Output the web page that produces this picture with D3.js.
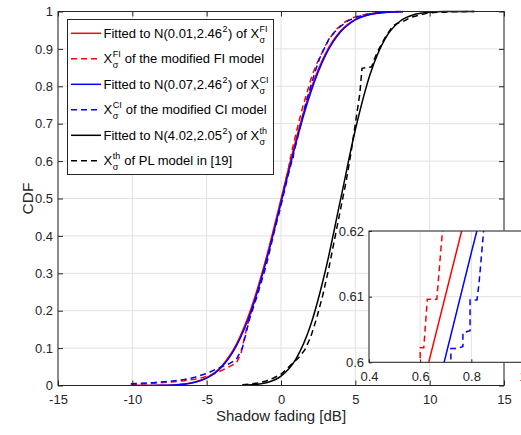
<!DOCTYPE html>
<meta charset="utf-8">
<style>
body { margin: 0; background: #fff; }
svg { display: block; font-family: "Liberation Sans", Arial, Helvetica, sans-serif; }
.grid line { stroke: #e2e2e2; stroke-width: 1; }
.axis text { font-size: 13px; fill: #262626; }
.axis line { stroke: #262626; }
.axis path { display: none; }
</style>
<body>
<script src="https://cdn.jsdelivr.net/npm/d3@7"></script>
<script>

// ticks
var xTicks = [-15, -10, -5, 0, 5, 10, 15];
var yTicks = [0, 0.1, 0.2, 0.3, 0.4, 0.5, 0.6, 0.7, 0.8, 0.9, 1];
var insetXTicks = [0.4, 0.6, 0.8, 1];
var insetYTicks = [0.6, 0.61, 0.62];

// fitted normal CDFs
var fitX_FI = [-10.1, -9, -8, -7, -6, -5, -4, -3, -2, -1, 0, 0.4, 0.6, 0.8, 1, 2, 3, 4, 5, 6, 7, 8, 8.2];
var fitY_FI = [0.00002, 0.00012, 0.00056, 0.0022, 0.0073, 0.0208, 0.0516, 0.1105, 0.2070, 0.3407, 0.4984,
               0.5630, 0.5948, 0.6259, 0.6563, 0.7907, 0.8879, 0.9476, 0.9787, 0.9926, 0.9978, 0.9994, 0.9996];
var fitX_CI = [-10.1, -9, -8, -7, -6, -5, -4, -3, -2, -1, 0, 0.4, 0.6, 0.8, 1, 2, 3, 4, 5, 6, 7, 8, 8.2];
var fitY_CI = [0.00002, 0.00011, 0.00052, 0.0020, 0.0068, 0.0197, 0.0491, 0.1060, 0.2000, 0.3318, 0.4886,
               0.5534, 0.5853, 0.6167, 0.6473, 0.7837, 0.8832, 0.9449, 0.9775, 0.9920, 0.9976, 0.9994, 0.9995];
var fitX_th = [-2.6, -2, -1, 0, 1, 2, 3, 4, 5, 6, 7, 8, 9, 10, 11, 12, 13];
var fitY_th = [0.0006, 0.0017, 0.0072, 0.0249, 0.0704, 0.1623, 0.3094, 0.4961, 0.6837, 0.8330, 0.9270,
               0.9739, 0.9924, 0.9982, 0.9997, 0.99995, 1.0];

// empirical CDFs [x, F]
var empFI = [[-10.1,0.003],[-9.5,0.004],[-8.5,0.006],[-7.5,0.009],[-6.5,0.013],[-5.8,0.017],[-5.2,0.022],
  [-4.6,0.03],[-4.0,0.04],[-3.5,0.05],[-3.0,0.06],[-2.7,0.085],[-2.5,0.12],[-2.3,0.155],[-2.05,0.19],
  [-1.8,0.225],[-1.5,0.265],[-1.2,0.305],[-0.9,0.35],[-0.6,0.395],[-0.3,0.445],[0.0,0.49],[0.3,0.545],
  [0.6,0.599],[0.6,0.6022],[0.614,0.6022],[0.628,0.6096],[0.665,0.6096],[0.687,0.62],[0.9,0.655],
  [1.2,0.705],[1.5,0.75],[1.8,0.79],[2.1,0.83],[2.4,0.86],[2.7,0.885],[3.0,0.91],[3.4,0.935],[3.8,0.955],
  [4.3,0.972],[4.8,0.983],[5.5,0.991],[6.3,0.996],[7.2,0.999],[8.2,1.0]];
var empCI = [[-10.1,0.005],[-9.5,0.006],[-8.5,0.008],[-7.5,0.011],[-6.5,0.016],[-5.8,0.022],[-5.0,0.032],
  [-4.4,0.043],[-4.0,0.05],[-3.5,0.058],[-3.0,0.07],[-2.6,0.1],[-2.35,0.14],[-2.1,0.18],[-1.85,0.21],
  [-1.6,0.24],[-1.3,0.28],[-1.0,0.32],[-0.7,0.37],[-0.4,0.42],[-0.1,0.465],[0.2,0.515],[0.5,0.565],
  [0.72,0.5995],[0.72,0.6021],[0.745,0.6021],[0.767,0.6024],[0.767,0.6045],[0.795,0.6048],[0.795,0.6095],
  [0.822,0.6095],[0.83,0.612],[0.848,0.62],[1.1,0.66],[1.4,0.71],[1.7,0.76],[2.0,0.8],[2.3,0.84],
  [2.6,0.875],[2.9,0.9],[3.2,0.925],[3.6,0.945],[4.0,0.96],[4.5,0.975],[5.0,0.984],[5.7,0.992],
  [6.5,0.997],[7.4,0.999],[8.2,1.0]];
var empPL = [[-2.6,0.002],[-2.0,0.004],[-1.5,0.007],[-1.0,0.012],[-0.5,0.02],[0.0,0.03],[0.4,0.045],
  [0.8,0.06],[1.2,0.075],[1.6,0.095],[2.0,0.13],[2.4,0.18],[2.8,0.24],[3.2,0.31],[3.6,0.39],[4.0,0.47],
  [4.4,0.55],[4.7,0.62],[5.0,0.7],[5.3,0.78],[5.45,0.848],[6.1,0.852],[6.3,0.875],[6.55,0.897],[7.0,0.93],
  [7.5,0.96],[7.8,0.968],[8.3,0.975],[8.7,0.984],[9.3,0.99],[9.8,0.995],[10.5,0.998],[11.5,0.999],[13,1.0]];

var legendLabels = [
  [{t: "Fitted to N(0.01,2.46"}, {sup: "2"}, {t: ") of X"}, {sup: "FI", sub: "σ"}],
  [{t: "X"}, {sup: "FI", sub: "σ"}, {t: " of the modified FI model"}],
  [{t: "Fitted to N(0.07,2.46"}, {sup: "2"}, {t: ") of X"}, {sup: "CI", sub: "σ"}],
  [{t: "X"}, {sup: "CI", sub: "σ"}, {t: " of the modified CI model"}],
  [{t: "Fitted to N(4.02,2.05"}, {sup: "2"}, {t: ") of X"}, {sup: "th", sub: "σ"}],
  [{t: "X"}, {sup: "th", sub: "σ"}, {t: " of PL model in [19]"}]
];

function pairs(xs, ys) { return xs.map(function(v, i) { return [v, ys[i]]; }); }

var series = [
  {data: pairs(fitX_FI, fitY_FI), color: "#ff0000", dash: null, fit: true},
  {data: empFI, color: "#ff0000", dash: "6,4", fit: false},
  {data: pairs(fitX_CI, fitY_CI), color: "#0000ff", dash: null, fit: true},
  {data: empCI, color: "#0000ff", dash: "6,4", fit: false},
  {data: pairs(fitX_th, fitY_th), color: "#000000", dash: null, fit: true},
  {data: empPL, color: "#000000", dash: "6,4", fit: false}
];

var svg = d3.select("body").append("svg").attr("width", 521).attr("height", 435);

var x = d3.scaleLinear().domain([-15, 15]).range([58, 504]);
var y = d3.scaleLinear().domain([0, 1]).range([385.5, 11.5]);

// grid
var grid = svg.append("g").attr("class", "grid");
grid.selectAll(".gx").data(xTicks).enter().append("line")
    .attr("x1", x).attr("x2", x).attr("y1", y(0)).attr("y2", y(1));
grid.selectAll(".gy").data(yTicks).enter().append("line")
    .attr("x1", x(-15)).attr("x2", x(15)).attr("y1", y).attr("y2", y);

function drawSeries(g, sx, sy) {
  g.selectAll("path.s").data(series).enter().append("path")
      .attr("class", "s")
      .attr("fill", "none")
      .attr("stroke", function(d) { return d.color; })
      .attr("stroke-width", 1.5)
      .attr("stroke-dasharray", function(d) { return d.dash; })
      .attr("d", function(d) {
        return d3.line().x(function(p) { return sx(p[0]); }).y(function(p) { return sy(p[1]); })
          .curve(d.fit ? d3.curveMonotoneX : d3.curveLinear)(d.data);
      });
}

svg.append("clipPath").attr("id", "mainclip").append("rect")
    .attr("x", x(-15)).attr("y", y(1) - 2).attr("width", x(15) - x(-15)).attr("height", y(0) - y(1) + 2);
drawSeries(svg.append("g").attr("clip-path", "url(#mainclip)"), x, y);

// axes (ticks inward)
svg.append("g").attr("class", "axis").attr("transform", "translate(0," + y(0) + ")")
    .call(d3.axisBottom(x).tickValues(xTicks).tickSize(-5).tickSizeOuter(0).tickPadding(9)
      .tickFormat(function(d) { return String(d); }));
svg.append("g").attr("class", "axis").attr("transform", "translate(0," + y(1) + ")")
    .call(d3.axisTop(x).tickValues(xTicks).tickSize(-5).tickSizeOuter(0).tickFormat(""));
svg.append("g").attr("class", "axis").attr("transform", "translate(" + x(-15) + ",0)")
    .call(d3.axisLeft(y).tickValues(yTicks).tickSize(-5).tickSizeOuter(0).tickPadding(5)
      .tickFormat(function(d) { return String(d); }));
svg.append("g").attr("class", "axis").attr("transform", "translate(" + x(15) + ",0)")
    .call(d3.axisRight(y).tickValues(yTicks).tickSize(-5).tickSizeOuter(0).tickFormat(""));
svg.append("rect")
    .attr("x", x(-15)).attr("y", y(1)).attr("width", x(15) - x(-15)).attr("height", y(0) - y(1))
    .attr("fill", "none").attr("stroke", "#262626").attr("stroke-width", 1);

// axis labels
svg.append("text")
    .attr("x", x(0)).attr("y", 421).attr("text-anchor", "middle")
    .attr("font-size", "15px").attr("fill", "#262626")
    .text("Shadow fading [dB]");
svg.append("text")
    .attr("transform", "translate(33," + y(0.5) + ") rotate(-90)")
    .attr("text-anchor", "middle").attr("font-size", "15.5px").attr("fill", "#262626")
    .text("CDF");

// legend
var lg = svg.append("g");
lg.append("rect").attr("x", 67.5).attr("y", 19.5).attr("width", 206).attr("height", 155)
    .attr("fill", "#fff").attr("stroke", "#262626").attr("stroke-width", 1);

function richText(g, x0, yb, parts) {
  var cx = x0;
  parts.forEach(function(p) {
    if (p.t) {
      var t = g.append("text").attr("x", cx).attr("y", yb).attr("font-size", "13px")
          .attr("fill", "#000").style("white-space", "pre").text(p.t);
      cx += t.node().getComputedTextLength();
    } else {
      var w = 0;
      if (p.sup) {
        var s = g.append("text").attr("x", cx + 0.5).attr("y", yb - 6).attr("font-size", "9px")
            .attr("fill", "#000").text(p.sup);
        w = Math.max(w, s.node().getComputedTextLength() + 1);
      }
      if (p.sub) {
        var b = g.append("text").attr("x", cx + 0.5).attr("y", yb + 5).attr("font-size", "9px")
            .attr("fill", "#000").text(p.sub);
        w = Math.max(w, b.node().getComputedTextLength() + 1);
      }
      cx += w;
    }
  });
}

series.forEach(function(s, i) {
  var ry = 33.3 + i * 25.5;
  lg.append("line").attr("x1", 71).attr("x2", 101).attr("y1", ry).attr("y2", ry)
      .attr("stroke", s.color).attr("stroke-width", 1.5).attr("stroke-dasharray", s.dash);
  richText(lg, 103.5, ry + 4.3, legendLabels[i]);
});

// inset
var ix = d3.scaleLinear().domain([0.4, 1]).range([369, 522.5]);
var iy = d3.scaleLinear().domain([0.6, 0.62]).range([362.3, 231]);
var inset = svg.append("g");
inset.append("rect").attr("x", ix(0.4)).attr("y", iy(0.62))
    .attr("width", ix(1) - ix(0.4)).attr("height", iy(0.6) - iy(0.62)).attr("fill", "#fff");
var ig = inset.append("g").attr("class", "grid");
ig.selectAll(".gx").data(insetXTicks).enter().append("line")
    .attr("x1", ix).attr("x2", ix).attr("y1", iy(0.6)).attr("y2", iy(0.62));
ig.selectAll(".gy").data(insetYTicks).enter().append("line")
    .attr("x1", ix(0.4)).attr("x2", ix(1)).attr("y1", iy).attr("y2", iy);

svg.append("clipPath").attr("id", "insetclip").append("rect")
    .attr("x", ix(0.4)).attr("y", iy(0.62)).attr("width", ix(1) - ix(0.4)).attr("height", iy(0.6) - iy(0.62));
drawSeries(inset.append("g").attr("clip-path", "url(#insetclip)"), ix, iy);

inset.append("g").attr("class", "axis").attr("transform", "translate(0," + iy(0.6) + ")")
    .call(d3.axisBottom(ix).tickValues(insetXTicks).tickSize(-3).tickSizeOuter(0).tickPadding(9.5)
      .tickFormat(function(d) { return String(d); }));
inset.append("g").attr("class", "axis").attr("transform", "translate(" + ix(0.4) + ",0)")
    .call(d3.axisLeft(iy).tickValues(insetYTicks).tickSize(-3).tickSizeOuter(0).tickPadding(5)
      .tickFormat(function(d) { return String(d); }));
inset.append("rect").attr("x", ix(0.4)).attr("y", iy(0.62))
    .attr("width", ix(1) - ix(0.4)).attr("height", iy(0.6) - iy(0.62))
    .attr("fill", "none").attr("stroke", "#262626").attr("stroke-width", 1);

</script>
</body>
